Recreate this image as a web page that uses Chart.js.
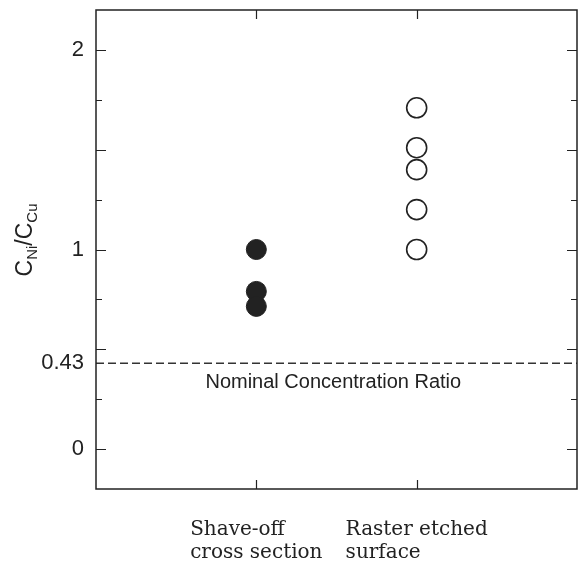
<!DOCTYPE html>
<html>
<head>
<meta charset="utf-8">
<script src="https://cdn.jsdelivr.net/npm/chart.js@4.4.1/dist/chart.umd.min.js"></script>
<style>
  html, body { margin: 0; background: #fff; overflow: hidden; }
  #wrap { width: 578px; height: 563px; position: relative; }
</style>
</head>
<body>
<div id="wrap"><canvas id="myChart"></canvas></div>
<script>
// categories (x positions 1 and 2 on the x scale)
const groups = [['Shave-off', 'cross section'], ['Raster etched', 'surface']];
const groupX = [1, 2];
// C_Ni / C_Cu values
const shaveOff = [1.0, 0.79, 0.715];
const rasterEtched = [1.71, 1.51, 1.40, 1.20, 1.0];
const nominalRatio = 0.43;
const nominalLabel = 'Nominal Concentration Ratio';
const yTickValues = [0, 0.43, 1, 2];

const ink = '#222';

// frame, inward ticks, axis title, category labels and the nominal label
const decorations = {
    id: 'decorations',
    afterDatasetsDraw(chart) {
        const c = chart.ctx;
        const a = chart.chartArea;
        const xs = chart.scales.x;
        const ys = chart.scales.y;
        c.save();
        c.strokeStyle = ink;
        c.lineWidth = 1.5;
        c.strokeRect(a.left, a.top, a.right - a.left, a.bottom - a.top);

        // y ticks every 0.25, longer every 0.5
        c.lineWidth = 1.2;
        for (let v = 0; v <= 2.001; v += 0.25) {
            const py = Math.round(ys.getPixelForValue(v)) + 0.5;
            const len = (Math.abs(v * 2 - Math.round(v * 2)) < 0.01) ? 10 : 6;
            c.beginPath();
            c.moveTo(a.left, py); c.lineTo(a.left + len, py);
            c.moveTo(a.right, py); c.lineTo(a.right - len, py);
            c.stroke();
        }
        // x ticks at the two groups, top and bottom
        groupX.forEach(v => {
            const px = Math.round(xs.getPixelForValue(v)) + 0.5;
            c.beginPath();
            c.moveTo(px, a.top); c.lineTo(px, a.top + 9);
            c.moveTo(px, a.bottom); c.lineTo(px, a.bottom - 9);
            c.stroke();
        });

        // nominal ratio text under the dashed line
        c.fillStyle = ink;
        c.font = '20px "Liberation Sans", Arial, sans-serif';
        c.textAlign = 'center';
        c.textBaseline = 'alphabetic';
        c.fillText(nominalLabel, xs.getPixelForValue(1.48), ys.getPixelForValue(nominalRatio) + 25);

        // category labels: lines left aligned, block centred on the tick
        c.font = '20px "DejaVu Serif", serif';
        c.textAlign = 'left';
        groups.forEach((lines, i) => {
            const px = xs.getPixelForValue(groupX[i]);
            const w = Math.max(...lines.map(t => c.measureText(t).width));
            lines.forEach((t, j) => {
                c.fillText(t, px - w / 2, 535 + j * 23);
            });
        });

        // y axis title C_Ni / C_Cu
        const parts = [['C', false], ['Ni', true], ['/', false], ['C', false], ['Cu', true]];
        const mainFont = '23px "Liberation Sans", Arial, sans-serif';
        const subFont = '15px "Liberation Sans", Arial, sans-serif';
        let total = 0;
        parts.forEach(p => { c.font = p[1] ? subFont : mainFont; total += c.measureText(p[0]).width; });
        c.translate(32, 240);
        c.rotate(-Math.PI / 2);
        let x = -total / 2;
        parts.forEach(p => {
            c.font = p[1] ? subFont : mainFont;
            c.fillText(p[0], x, p[1] ? 5 : 0);
            x += c.measureText(p[0]).width;
        });
        c.restore();
    }
};

const ctx = document.getElementById('myChart').getContext('2d');
const chart = new Chart(ctx, {
    type: 'scatter',
    data: {
        datasets: [
            {
                label: 'nominal',
                type: 'line',
                data: [{ x: 0, y: nominalRatio }, { x: 3, y: nominalRatio }],
                borderColor: '#333',
                borderWidth: 1.5,
                borderDash: [8, 4],
                pointRadius: 0
            },
            {
                label: 'Shave-off cross section',
                data: shaveOff.map(v => ({ x: groupX[0], y: v })),
                backgroundColor: ink,
                borderColor: ink,
                borderWidth: 1,
                pointRadius: 10
            },
            {
                label: 'Raster etched surface',
                data: rasterEtched.map(v => ({ x: groupX[1], y: v })),
                backgroundColor: '#fff',
                borderColor: ink,
                borderWidth: 1.6,
                pointRadius: 10
            }
        ]
    },
    options: {
        responsive: true,
        maintainAspectRatio: false,
        animation: false,
        layout: { autoPadding: false, padding: { top: 10, right: 1, left: 0, bottom: 0 } },
        plugins: { legend: { display: false }, tooltip: { enabled: false } },
        scales: {
            x: {
                type: 'linear',
                min: 0,
                max: 3,
                grid: { display: false },
                border: { display: false },
                ticks: { display: false },
                afterFit(scale) {
                    scale.height = 74;
                    scale.paddingLeft = 0;
                    scale.paddingRight = 0;
                }
            },
            y: {
                min: -0.2,
                max: 2.2,
                grid: { display: false },
                border: { display: false },
                afterBuildTicks(scale) { scale.ticks = yTickValues.map(v => ({ value: v })); },
                ticks: {
                    color: ink,
                    padding: 4,
                    font: { family: '"Liberation Sans", Arial, sans-serif', size: 22 },
                    callback: v => String(v)
                },
                afterFit(scale) {
                    scale.width = 96;
                    scale.paddingTop = 0;
                    scale.paddingBottom = 0;
                }
            }
        }
    },
    plugins: [decorations]
});
</script>
</body>
</html>
